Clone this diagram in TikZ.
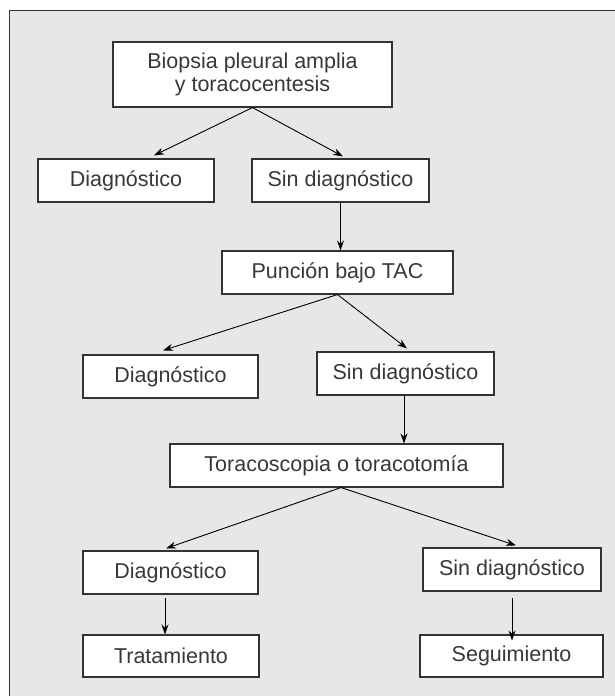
\documentclass[tikz,border=0pt]{standalone}
\usepackage{fontspec}
\setmainfont{Liberation Sans}
\usepackage{tikz}
\usetikzlibrary{arrows.meta}
\definecolor{fondo}{HTML}{E6E7E9}
\definecolor{borde}{HTML}{333333}

\begin{document}
\begin{tikzpicture}[x=1pt, y=-1pt,
    caja/.style={draw=borde, line width=1.1pt, fill=white, inner sep=0pt,
      minimum height=43pt, text=black!78, font=\fontsize{21.5}{23}\selectfont},
    flecha/.style={line width=0.9pt, -{Stealth[length=10pt, width=7pt]}}]
      \useasboundingbox (0,0) rectangle (615,696);
      \fill[fondo] (9,10) rectangle (615,696);
      \draw[borde, line width=1pt] (9,696) -- (9,10) -- (615,10);
      \begin{scope}[every node/.style={caja}]
      \node[minimum width=279pt, minimum height=65pt, align=center] (bio) at (252.5,74.5) {Biopsia pleural amplia\\y toracocentesis};
      \node[minimum width=176pt] (diagA) at (126,180.5) {Diagnóstico};
      \node[minimum width=177pt] (sinA) at (340.5,180.5) {Sin diagnóstico};
      \node[minimum width=231pt] (pun) at (337.5,272.5) {Punción bajo TAC};
      \node[minimum width=175pt] (diagB) at (170.5,376.5) {Diagnóstico};
      \node[minimum width=177pt] (sinB) at (405.5,373.5) {Sin diagnóstico};
      \node[minimum width=333pt] (tor) at (336.5,465.5) {Toracoscopia o toracotomía};
      \node[minimum width=175pt] (diagC) at (170.5,572.5) {Diagnóstico};
      \node[minimum width=178pt] (sinC) at (512,569.5) {Sin diagnóstico};
      \node[minimum width=176pt, minimum height=42pt] (trat) at (171,656) {Tratamiento};
      \node[minimum width=183pt, minimum height=42pt] (seg) at (511.5,656) {Seguimiento};
      \end{scope}
      \draw[flecha] (bio.south) -- ([xshift=28pt, yshift=3pt]diagA.north);
      \draw[flecha] (bio.south) -- ([xshift=2.5pt, yshift=2pt]sinA.north);
      \draw[flecha] (sinA.south) -- (sinA.south |- pun.north);
      \draw[flecha] (pun.south) -- ([xshift=-7.5pt, yshift=4pt]diagB.north);
      \draw[flecha] (pun.south) -- ([xshift=1.5pt, yshift=3pt]sinB.north);
      \draw[flecha] ([xshift=-1.5pt]sinB.south) -- ([xshift=-1.5pt]sinB.south |- tor.north);
      \draw[flecha] ([xshift=4.5pt]tor.south) -- ([xshift=-4.5pt, yshift=2pt]diagC.north);
      \draw[flecha] ([xshift=4.5pt]tor.south) -- ([xshift=4pt, yshift=2pt]sinC.north);
      \draw[flecha] ([xshift=-5.5pt, yshift=-3pt]diagC.south) -- ([xshift=-6pt]trat.north);
      \draw[flecha] ([yshift=-6pt]sinC.south) -- ([yshift=-6pt]sinC.south |- seg.north);
    \end{tikzpicture}
\end{document}
